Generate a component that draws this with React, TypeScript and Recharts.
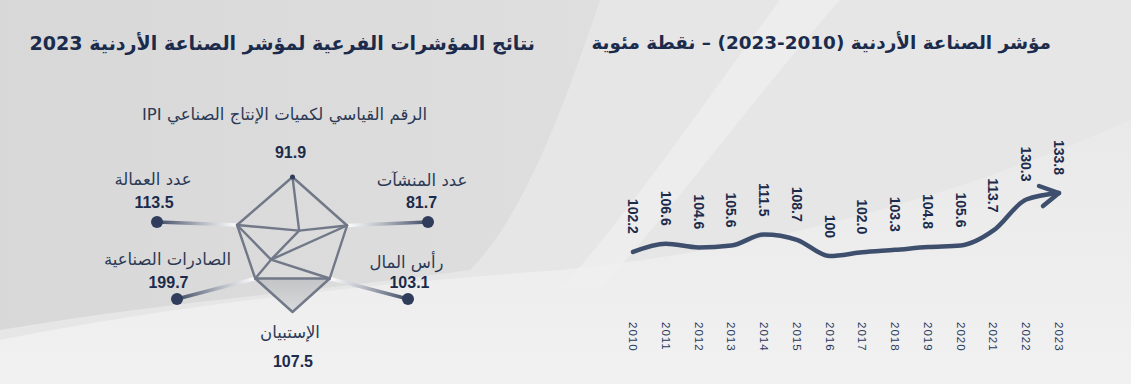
import React from 'react';
import {
  LineChart, Line, XAxis, YAxis, LabelList,
  RadarChart, Radar, PolarAngleAxis, PolarRadiusAxis,
} from 'recharts';

// ---------- data ----------
const years = ['2010', '2011', '2012', '2013', '2014', '2015', '2016', '2017', '2018', '2019', '2020', '2021', '2022', '2023'];
const industryIndex = [102.2, 106.6, 104.6, 105.6, 111.5, 108.7, 100, 102.0, 103.3, 104.8, 105.6, 113.7, 130.3, 133.8];
const industryLabels = ['102.2', '106.6', '104.6', '105.6', '111.5', '108.7', '100', '102.0', '103.3', '104.8', '105.6', '113.7', '130.3', '133.8'];

const subIndexNames = [
  'الرقم القياسي لكميات الإنتاج الصناعي IPI',
  'عدد المنشآت',
  'رأس المال',
  'الإستبيان',
  'الصادرات الصناعية',
  'عدد العمالة',
];
const subIndexValues = ['91.9', '81.7', '103.1', '107.5', '199.7', '113.5'];
// radius of the decorative polygon as drawn in the picture
const glyphRadius = [80, 63, 43, 55, 43, 64];

const rightTitle = 'مؤشر الصناعة الأردنية (2010-2023) – نقطة مئوية';
const leftTitle = 'نتائج المؤشرات الفرعية لمؤشر الصناعة الأردنية 2023';

const lineData = years.map((y, i) => ({ year: y, value: industryIndex[i], label: industryLabels[i] }));
const radarData = subIndexNames.map((n, i) => ({ name: n, value: subIndexValues[i], glyph: glyphRadius[i] }));

// ---------- styles / layout ----------
const NAVY = '#1c2b4b';
const LINE = '#3e4f6e';
const POLY = '#717888';
const ARABIC = '"DejaVu Sans", sans-serif';
const NUM = '"Liberation Sans", Arial, sans-serif';
const CX = 292.5;
const CY = 257;
const OX = 292.5; // origin for label placement
const OY = 254;

const labelOffsets = [
  { name: [-8, -140], value: [-2, -102] },
  { name: [129.5, -74], value: [129, -52] },
  { name: [114, 8], value: [117, 28] },
  { name: [-2.5, 78], value: [0.5, 107] },
  { name: [-125, 5], value: [-124, 28] },
  { name: [-139.5, -75], value: [-138.5, -52] },
];
// end dots of the connectors (relative to label origin)
const connectorEnds: Record<number, [number, number]> = {
  5: [-135.5, -32],
  1: [135.5, -32],
  4: [-115.5, 45],
  2: [115.5, 45],
};

const ValueLabel = (props: any) => {
  const { x, y, value } = props;
  const ay = y - 18;
  return (
    <text x={x} y={ay} transform={`rotate(90 ${x} ${ay})`} textAnchor="end" dominantBaseline="central"
      fontFamily={NUM} fontWeight="bold" fontSize={14} fill={NAVY}>{value}</text>
  );
};

const YearTick = (props: any) => {
  const { x, y, payload } = props;
  const ay = y + 58;
  return (
    <text x={x} y={ay} transform={`rotate(90 ${x} ${ay})`} textAnchor="start" dominantBaseline="central"
      fontFamily={NUM} fontSize={11.5} letterSpacing={1} fill="#2a3a5c">{payload.value}</text>
  );
};

const ArrowDot = (props: any) => {
  const { cx, cy, index } = props;
  if (index !== years.length - 1) return <g key={`d${index}`} />;
  return (
    <path key={`d${index}`} d={`M${cx - 20},${cy - 7} L${cx},${cy} L${cx - 16},${cy + 13}`}
      fill="none" stroke={LINE} strokeWidth={4.5} strokeLinecap="round" strokeLinejoin="round" />
  );
};

const AngleTick = (props: any) => {
  const { index } = props;
  const o = labelOffsets[index];
  if (!o) return null;
  return (
    <g>
      <text x={OX + o.name[0]} y={OY + o.name[1]} textAnchor="middle" dominantBaseline="central"
        fontFamily={ARABIC} fontSize={16.5} fill="#2b3955" direction="rtl">{subIndexNames[index]}</text>
      <text x={OX + o.value[0]} y={OY + o.value[1]} textAnchor="middle" dominantBaseline="central"
        fontFamily={NUM} fontWeight="bold" fontSize={16} fill={NAVY}>{subIndexValues[index]}</text>
    </g>
  );
};

const GlyphShape = (props: any) => {
  const pts: { x: number; y: number }[] = props.points || [];
  if (pts.length < 6) return null;
  const [top, ur, lr, bot, ll, ul] = pts;
  const A = {
    x: 0.42 * ul.x + 0.48 * ur.x + 0.1 * lr.x,
    y: 0.42 * ul.y + 0.48 * ur.y + 0.1 * lr.y,
  };
  const B = { x: (ul.x + ll.x + lr.x) / 3 - 3, y: (ul.y + ll.y + lr.y) / 3 - 1 };
  const seg = (p: any, q: any, k: string) => (
    <line key={k} x1={p.x} y1={p.y} x2={q.x} y2={q.y} stroke={POLY} strokeWidth={2.4} strokeLinecap="round" />
  );
  return (
    <g>
      <defs>
        <linearGradient id="triFill" x1="0" y1="0" x2="0" y2="1">
          <stop offset="0" stopColor="#c3c4c6" />
          <stop offset="1" stopColor="#d8d9db" />
        </linearGradient>
        {Object.keys(connectorEnds).map((k) => {
          const i = Number(k);
          const p = pts[i];
          const e = connectorEnds[i];
          return (
            <linearGradient key={k} id={`cg${k}`} gradientUnits="userSpaceOnUse" x1={p.x} y1={p.y} x2={OX + e[0]} y2={OY + e[1]}>
              <stop offset="0" stopColor="#ffffff" stopOpacity={0.95} />
              <stop offset="0.45" stopColor="#b4b8c2" />
              <stop offset="1" stopColor="#3f4a63" />
            </linearGradient>
          );
        })}
      </defs>
      {Object.keys(connectorEnds).map((k) => {
        const i = Number(k);
        const p = pts[i];
        const e = connectorEnds[i];
        return (
          <g key={`c${k}`}>
            <line x1={p.x} y1={p.y} x2={OX + e[0]} y2={OY + e[1]} stroke={`url(#cg${k})`} strokeWidth={3.5} />
            <circle cx={OX + e[0]} cy={OY + e[1]} r={6} fill="#2f3c5b" />
          </g>
        );
      })}
      <path d={`M${ll.x},${ll.y} L${lr.x},${lr.y} L${bot.x},${bot.y} Z`} fill="url(#triFill)" stroke={POLY} strokeWidth={2.4} strokeLinejoin="round" />
      {seg(top, ur, 's1')}
      {seg(ur, lr, 's2')}
      {seg(ll, ul, 's3')}
      {seg(ul, top, 's4')}
      {seg(top, A, 's5')}
      {seg(ul, A, 's6')}
      {seg(A, ur, 's7')}
      {seg(ul, B, 's8')}
      {seg(A, B, 's9')}
      {seg(ur, B, 's10')}
      {seg(B, lr, 's11')}
      {seg(B, ll, 's12')}
      <circle cx={top.x} cy={top.y} r={2.5} fill="#2f3c5b" />
    </g>
  );
};

const Background = () => (
  <svg width={1131} height={384} style={{ position: 'absolute', left: 0, top: 0 }}>
    <defs>
      <linearGradient id="bgBase" x1="0" y1="0" x2="1" y2="0">
        <stop offset="0" stopColor="#d8d8d8" />
        <stop offset="0.5" stopColor="#dedede" />
        <stop offset="1" stopColor="#ececec" />
      </linearGradient>
      <linearGradient id="bgLow" x1="0" y1="0" x2="0" y2="1">
        <stop offset="0" stopColor="#e9e9e9" />
        <stop offset="1" stopColor="#f1f1f1" />
      </linearGradient>
    </defs>
    <rect x={0} y={0} width={1131} height={384} fill="url(#bgBase)" />
    <path d="M600,0 C560,120 520,220 470,270 C330,290 180,300 0,330 L0,384 L1131,384 L1131,0 Z" fill="#e6e6e6" />
    <path d="M0,340 C200,300 420,280 560,270 C760,250 950,200 1131,120 L1131,384 L0,384 Z" fill="url(#bgLow)" />
    <path d="M780,0 C720,80 640,200 560,290 L600,290 C680,200 760,90 840,0 Z" fill="#efefef" opacity={0.7} />
  </svg>
);

export default function App() {
  return (
    <div style={{ position: 'absolute', left: 0, top: 0, width: 1131, height: 384, overflow: 'hidden' }}>
      <Background />
      <div style={{ position: 'absolute', right: 1131 - 1051, top: 32, fontFamily: ARABIC, fontWeight: 'bold', fontSize: 18.4, color: NAVY, direction: 'rtl', whiteSpace: 'nowrap' }}>
        {rightTitle}
      </div>
      <div style={{ position: 'absolute', right: 1131 - 535, top: 32, fontFamily: ARABIC, fontWeight: 'bold', fontSize: 19.1, color: NAVY, direction: 'rtl', whiteSpace: 'nowrap' }}>
        {leftTitle}
      </div>
      <div style={{ position: 'absolute', left: 0, top: 0 }}>
        <RadarChart width={560} height={384} data={radarData} cx={CX} cy={CY} outerRadius={85} margin={{ top: 0, right: 0, bottom: 0, left: 0 }}>
          <PolarRadiusAxis domain={[0, 85]} tick={false} axisLine={false} />
          <PolarAngleAxis dataKey="name" tick={<AngleTick />} tickLine={false} axisLine={false} />
          <Radar dataKey="glyph" shape={<GlyphShape />} isAnimationActive={false} />
        </RadarChart>
      </div>
      <div style={{ position: 'absolute', left: 0, top: 0 }}>
        <LineChart width={1131} height={384} data={lineData} margin={{ top: 193, right: 72, bottom: 0, left: 633 }}>
          <XAxis dataKey="year" scale="point" padding={{ left: 0, right: 0 }} height={128} interval={0}
            axisLine={false} tickLine={false} tick={<YearTick />} />
          <YAxis hide domain={[100, 133.8]} />
          <Line type="monotone" dataKey="value" stroke={LINE} strokeWidth={4.5} strokeLinecap="round"
            dot={<ArrowDot />} activeDot={false} isAnimationActive={false}>
            <LabelList dataKey="label" content={<ValueLabel />} />
          </Line>
        </LineChart>
      </div>
    </div>
  );
}
